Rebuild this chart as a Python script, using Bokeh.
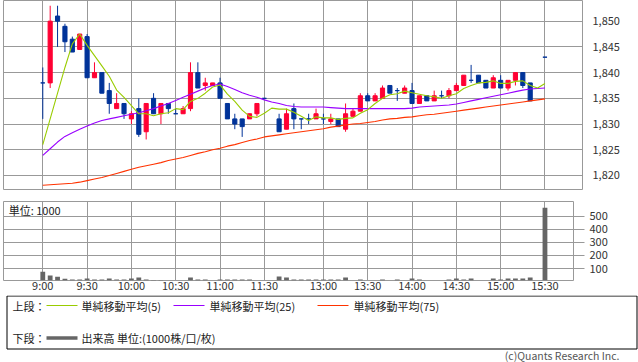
from bokeh.plotting import figure
from bokeh.layouts import column
from bokeh.models import Range1d, FixedTicker, NumeralTickFormatter, ColumnDataSource, Label
from bokeh.embed import file_html
from bokeh.resources import INLINE
from bokeh.core.properties import value

FONT = "Noto Sans CJK JP"
UP = "#FF0033"
DOWN = "#003399"
GRID = "#999999"
TXT = "#333333"


def times_between(start, end):
    h, m = map(int, start.split(":"))
    eh, em = map(int, end.split(":"))
    out, t = [], h * 60 + m
    while t <= eh * 60 + em:
        out.append(f"{t // 60}:{t % 60:02d}")
        t += 5
    return out


def slot(t):
    h, m = map(int, t.split(":"))
    mins = h * 60 + m
    if mins <= 11 * 60 + 30:
        return (mins - 9 * 60) // 5
    return 32 + (mins - (12 * 60 + 30)) // 5


# ---------------- data ----------------
candle_times = times_between("9:00", "11:30") + times_between("12:30", "15:20") + ["15:30"]

opens = [1838, 1838, 1851, 1849, 1846.5, 1844.5, 1847, 1839, 1840, 1836.5,
         1833, 1834, 1831, 1833, 1828.5, 1835, 1832, 1834, 1832, 1832,
         1833, 1840, 1837.5, 1837.5, 1838, 1834, 1831, 1831, 1831, 1832,
         1835,
         1831, 1829, 1833, 1831, 1831, 1831, 1831, 1830.5, 1831, 1829,
         1831.5, 1832.5, 1835.5, 1834.5, 1835, 1837.5, 1836.5, 1836, 1836.5, 1834,
         1835.5, 1834.5, 1835.5, 1835.5, 1836.5, 1837.5, 1838.5, 1839.5, 1838.5, 1837,
         1838.5, 1837, 1838.5, 1840, 1838,
         1843]
highs = [1841, 1853, 1853, 1849.5, 1847, 1847.5, 1847.5, 1842, 1840, 1838,
         1836, 1834, 1832.5, 1835, 1834, 1836, 1834, 1834, 1833, 1833.5,
         1842, 1842, 1839, 1838, 1839, 1834, 1832, 1831, 1832, 1834,
         1835,
         1832, 1833, 1834, 1831, 1832, 1833, 1832, 1832, 1831, 1834,
         1833, 1836, 1836, 1836, 1837.5, 1837.5, 1837, 1837.5, 1838, 1835.5,
         1835.5, 1836.5, 1836.5, 1837, 1838, 1839.5, 1841.5, 1839.5, 1838.5, 1839.5,
         1839.5, 1838.5, 1840, 1840, 1838,
         1843]
lows = [1831, 1837, 1845, 1844, 1844, 1844.5, 1839, 1839, 1836, 1832,
        1833, 1831, 1830, 1827.5, 1827, 1832, 1830, 1832, 1832, 1832,
        1832.5, 1837, 1836.5, 1837.5, 1835, 1831, 1829, 1827.5, 1831, 1831.5,
        1835,
        1828.5, 1829, 1829, 1829, 1830, 1831, 1830, 1830, 1829.5, 1828.5,
        1831.5, 1832.5, 1834.5, 1834.5, 1835, 1836, 1834.5, 1836, 1834, 1834,
        1834.5, 1834.5, 1835, 1835, 1836.5, 1837.5, 1838, 1838, 1837, 1837,
        1837, 1836.5, 1837.5, 1837, 1834.5,
        1843]
closes = [1838, 1850, 1850, 1846, 1844, 1847.5, 1839, 1840, 1836, 1834,
          1834, 1832, 1832, 1828, 1834, 1832, 1834, 1833, 1832, 1833,
          1840, 1837, 1838, 1838, 1835, 1831, 1830, 1829.5, 1832, 1834,
          1835,
          1828.5, 1832, 1831, 1831, 1831, 1832, 1831, 1831, 1829.5, 1832,
          1832.5, 1835.5, 1834.5, 1835.5, 1837, 1836, 1836.5, 1837, 1834, 1835.5,
          1834.5, 1835.5, 1835.5, 1836.5, 1837.5, 1839.5, 1838.5, 1838, 1837, 1839,
          1837, 1838.5, 1840, 1837.5, 1834.5,
          1843]
volumes = [76, 46, 38, 21, 16, 16, 24, 16, 16, 24,
           16, 16, 24, 31, 16, 13, 13, 9, 9, 9,
           31, 16, 16, 9, 16, 16, 16, 16, 16, 9,
           9,
           39, 31, 16, 16, 16, 16, 16, 16, 16, 31,
           9, 16, 9, 9, 16, 9, 16, 9, 24, 16,
           9, 9, 9, 16, 24, 16, 24, 9, 9, 24,
           16, 24, 24, 24, 31,
           564]

# moving averages, one value per time slot (slot 31 = lunch break, slot 67 = closing auction)
ma5 = [1826.0, 1831.0, 1836.0, 1841.0, 1845.6, 1847.5, 1845.3, 1843.3, 1841.3, 1839.3,
       1836.6, 1835.2, 1833.6, 1832.0, 1832.0, 1831.6, 1832.0, 1832.2, 1833.0, 1832.8,
       1834.4, 1835.0, 1836.0, 1837.2, 1837.6, 1835.8, 1834.4, 1832.7, 1831.5, 1831.3,
       1832.1, 1833.1, 1832.9, 1832.9, 1832.3, 1831.5, 1830.7, 1831.4, 1831.2, 1831.2,
       1830.9, 1831.1, 1831.2, 1832.1, 1832.8, 1834.0, 1835.0, 1835.7, 1835.9, 1836.4,
       1836.1, 1835.8, 1835.5, 1835.3, 1835.0, 1835.5, 1835.9, 1836.9, 1837.5, 1838.0,
       1838.1, 1838.4, 1837.9, 1837.9, 1838.3, 1838.4, 1837.5, 1837.0, 1837.9]
ma25 = [1823.9, 1825.2, 1826.5, 1827.6, 1828.3, 1829.0, 1829.6, 1830.2, 1830.7, 1831.0,
        1831.3, 1831.6, 1831.9, 1832.2, 1832.6, 1833.0, 1833.5, 1834.0, 1834.6, 1835.2,
        1835.8, 1836.4, 1837.0, 1837.5, 1837.8, 1837.3, 1836.7, 1836.1, 1835.6, 1835.2,
        1834.7, 1834.3, 1834.0, 1833.6, 1833.4, 1833.3, 1833.3, 1833.3, 1833.3, 1833.2,
        1833.1, 1833.0, 1833.0, 1833.0, 1833.0, 1833.0, 1833.0, 1833.0, 1833.0, 1833.0,
        1833.1, 1833.3, 1833.4, 1833.5, 1833.6, 1833.7, 1833.9, 1834.2, 1834.5, 1834.8,
        1835.1, 1835.4, 1835.7, 1836.0, 1836.3, 1836.6, 1836.8, 1836.9, 1837.0]
ma75 = [1818.1, 1818.2, 1818.3, 1818.4, 1818.5, 1818.7, 1819.0, 1819.3, 1819.6, 1820.0,
        1820.4, 1820.8, 1821.2, 1821.6, 1821.9, 1822.2, 1822.5, 1822.9, 1823.2, 1823.5,
        1823.9, 1824.3, 1824.6, 1825.0, 1825.3, 1825.7, 1826.0, 1826.4, 1826.8, 1827.1,
        1827.5, 1827.7, 1827.9, 1828.1, 1828.3, 1828.5, 1828.7, 1828.9, 1829.1, 1829.4,
        1829.6, 1829.8, 1830.0, 1830.1, 1830.3, 1830.5, 1830.8, 1831.0, 1831.1, 1831.3,
        1831.4, 1831.6, 1831.8, 1831.9, 1832.1, 1832.3, 1832.5, 1832.7, 1832.9, 1833.1,
        1833.3, 1833.5, 1833.7, 1833.9, 1834.1, 1834.3, 1834.5, 1834.7, 1834.9]

tick_labels = ["9:00", "9:30", "10:00", "10:30", "11:00", "11:30",
               "13:00", "13:30", "14:00", "14:30", "15:00", "15:30"]
price_ticks = [1820, 1825, 1830, 1835, 1840, 1845, 1850]
volume_ticks = [100, 200, 300, 400, 500]

# ---------------- derived ----------------
xs = [slot(t) for t in candle_times]
tick_slots = [slot(t) for t in tick_labels]
ma_slots = list(range(len(ma5)))
colors = [UP if c > o else DOWN for o, c in zip(opens, closes)]
src = ColumnDataSource(dict(
    x=xs, high=highs, low=lows,
    top=[max(o, c) for o, c in zip(opens, closes)],
    bottom=[min(o, c) for o, c in zip(opens, closes)],
    color=colors, vol=volumes))

PX = 7.385          # pixels per 5-minute slot
X_START = -5.32     # slot value at the left edge of the panels


def style_common(p):
    p.outline_line_color = GRID
    p.outline_line_width = 1
    p.background_fill_color = "white"
    p.border_fill_color = "white"


# ---------------- price panel ----------------
pA = figure(frame_width=579, frame_height=190, output_backend="svg", toolbar_location=None,
            x_range=Range1d(X_START, X_START + 579 / PX),
            y_range=Range1d(1817.08, 1854.02),
            x_axis_location=None, y_axis_location="right",
            min_border_left=3, min_border_right=56, min_border_top=0, min_border_bottom=0)
style_common(pA)
pA.xgrid.ticker = FixedTicker(ticks=tick_slots)
pA.ygrid.ticker = FixedTicker(ticks=price_ticks)
pA.grid.grid_line_color = GRID
pA.grid.grid_line_width = 1
ya = pA.yaxis[0]
ya.ticker = FixedTicker(ticks=price_ticks)
ya.formatter = NumeralTickFormatter(format="0,0")
ya.major_tick_out = 0
ya.major_tick_in = 0
ya.minor_tick_out = 0
ya.minor_tick_in = 0
ya.axis_line_color = None
ya.major_label_standoff = 10
ya.major_label_text_font = FONT
ya.major_label_text_font_size = "11px"
ya.major_label_text_color = TXT

pA.segment(x0="x", y0="high", x1="x", y1="low", line_color="color", line_width=1, source=src)
pA.vbar(x="x", width=0.56, top="top", bottom="bottom", fill_color="color",
        line_color="color", line_width=1, source=src)
pA.line(ma_slots, ma75, line_color="#FF3300", line_width=1.1)
pA.line(ma_slots, ma25, line_color="#9900FF", line_width=1.1)
pA.line(ma_slots, ma5, line_color="#99CC00", line_width=1.1)

# ---------------- volume panel ----------------
pB = figure(frame_width=570, frame_height=79, output_backend="svg", toolbar_location=None,
            x_range=Range1d(X_START, X_START + 570 / PX),
            y_range=Range1d(8.4, 612.4),
            y_axis_location="right",
            min_border_left=3, min_border_right=65, min_border_top=11, min_border_bottom=13)
style_common(pB)
pB.xgrid.ticker = FixedTicker(ticks=tick_slots)
pB.ygrid.ticker = FixedTicker(ticks=volume_ticks)
pB.grid.grid_line_color = GRID
pB.grid.grid_line_width = 1
xb = pB.xaxis[0]
xb.ticker = FixedTicker(ticks=tick_slots)
xb.major_label_overrides = {s: l for s, l in zip(tick_slots, tick_labels)}
xb.major_tick_out = 0
xb.major_tick_in = 0
xb.minor_tick_out = 0
xb.minor_tick_in = 0
xb.axis_line_color = None
xb.major_label_standoff = -4
xb.major_label_text_font = FONT
xb.major_label_text_font_size = "11px"
xb.major_label_text_color = TXT
yb = pB.yaxis[0]
yb.ticker = FixedTicker(ticks=volume_ticks)
yb.major_tick_out = 11
yb.major_tick_in = 0
yb.major_tick_line_color = GRID
yb.minor_tick_out = 0
yb.minor_tick_in = 0
yb.axis_line_color = None
yb.major_label_standoff = 5
yb.major_label_text_font = FONT
yb.major_label_text_font_size = "11px"
yb.major_label_text_color = TXT

pB.vbar(x="x", width=0.65, top="vol", bottom=0, fill_color="#666666", line_color=None, source=src)
pB.add_layout(Label(x=X_START + 0.7, y=546, text="単位: 1000", text_font=FONT,
                    text_font_size="11px", text_baseline="middle", text_color="#222222"))

# ---------------- legend / credit ----------------
pC = figure(frame_width=638, frame_height=69, output_backend="svg", toolbar_location=None,
            x_range=Range1d(0, 638), y_range=Range1d(362, 293),
            x_axis_location=None, y_axis_location=None,
            min_border_left=0, min_border_right=0, min_border_top=0, min_border_bottom=0)
pC.outline_line_color = None
pC.grid.visible = False
pC.quad(left=[3.5], right=[633.5], top=[293.5], bottom=[346.5],
        fill_color=None, line_color="#000000", line_width=1)
pC.segment(x0=[43, 170, 314], y0=[303, 303, 303], x1=[74, 201, 345], y1=[303, 303, 303],
           line_color=["#99CC00", "#9900FF", "#FF3300"], line_width=1.1)
pC.segment(x0=[43], y0=[335.5], x1=[74], y1=[335.5], line_color="#666666", line_width=3.5)
pC.text(x=[9, 78, 206, 350, 9, 78],
        y=[303, 303, 303, 303, 335.5, 335.5],
        text=["上段：", "単純移動平均(5)", "単純移動平均(25)", "単純移動平均(75)",
              "下段：", "出来高 単位:(1000株/口/枚)"],
        text_font=value(FONT), text_font_size="11px", text_baseline="middle",
        text_align="left", text_color="#222222")
pC.text(x=[616], y=[352.5], text=["(c)Quants Research Inc."],
        text_font=value(FONT), text_font_size="10.5px", text_baseline="middle",
        text_align="right", text_color="#555555")

layout = column(pA, pB, pC, spacing=0)
open("out.html", "w").write(file_html(layout, INLINE))
